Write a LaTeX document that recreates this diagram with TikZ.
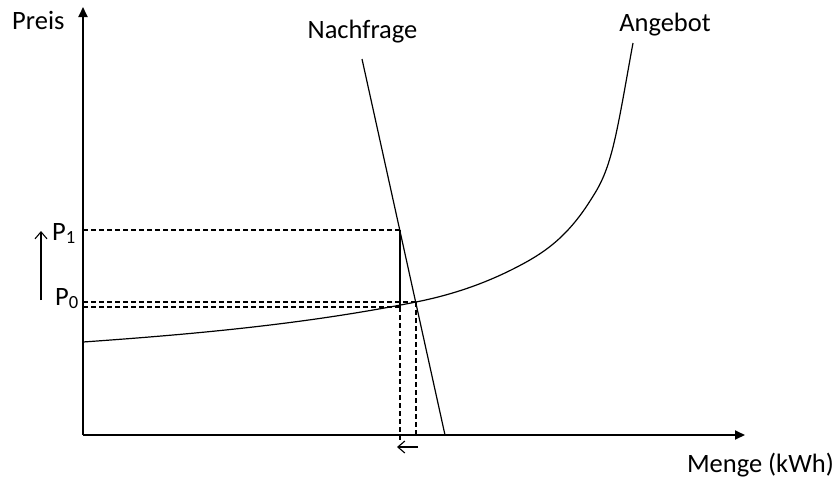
\documentclass[tikz,border=0pt]{standalone}
\usepackage{fontspec}
\setmainfont{Carlito}
\usetikzlibrary{arrows.meta}
\begin{document}
\begin{tikzpicture}[x=1pt,y=-1pt,
  axis/.style={line width=1.8pt,-{Triangle[length=10pt,width=9pt]}},
  curve/.style={line width=1.2pt},
  guide/.style={line width=1.1pt,dash pattern=on 5pt off 3pt},
  shiftarrow/.style={line width=1.1pt,-{Straight Barb[length=7pt,width=12pt]}},
  lbl/.style={font=\fontsize{26.5}{31}\selectfont,inner sep=0pt}]
\useasboundingbox (0,0) rectangle (837,480);
% coordinates
\coordinate (O) at (83,435);
\coordinate (Ytop) at (83,7);
\coordinate (Xend) at (745,435);
\coordinate (Dtop) at (362,59);
\coordinate (Dbot) at (445,435);
\coordinate (E) at (416,302);
\coordinate (A) at (400,230);
\coordinate (B) at (400,307);
\coordinate (P1) at (83,230);
\coordinate (P0a) at (83,302);
\coordinate (P0b) at (83,307);
\coordinate (Qa) at (400,442);
\coordinate (Qb) at (416,435);
\coordinate (S0) at (83,342);
\coordinate (S2) at (517,267);
\coordinate (S3) at (590,201);
\coordinate (S4) at (613,147);
\coordinate (S5) at (633,43);
% axes
\draw[axis] (O) -- (Ytop);
\draw[axis] (O) -- (Xend);
% guides
\draw[guide] (P1) -- (A);
\draw[guide] (P0a) -- (E);
\draw[guide] (P0b) -- (B);
\draw[guide] (B) -- (Qa);
\draw[guide] (E) -- (Qb);
% demand
\draw[curve] (Dtop) -- (Dbot);
% supply
\draw[curve] (S0) .. controls (194,334.2) and (305,324.2) .. (E)
  .. controls (449.7,295.3) and (483.3,284.5) .. (S2)
  .. controls (541.3,254.4) and (565.7,239.4) .. (S3)
  .. controls (597.7,188.9) and (605.3,177.7) .. (S4)
  .. controls (619.7,120.3) and (626.3,79) .. (S5);
% price jump
\draw[line width=1.8pt] (A) -- (B);
% shift arrows
\coordinate (Us) at (41,300);
\coordinate (Ue) at (41,231);
\draw[shiftarrow] (Us) -- (Ue);
\coordinate (Ls) at (418,447);
\coordinate (Le) at (397,447);
\draw[shiftarrow] (Ls) -- (Le);
% labels
\node[lbl,anchor=base west] (preis) at (12,29) {Preis};
\node[lbl,anchor=base] (nach) at (362.5,38) {Nachfrage};
\node[lbl,anchor=base] (ang) at (665,31) {Angebot};
\node[lbl,anchor=base east] (menge) at (834,472) {Menge (kWh)};
\node[lbl,anchor=base west] (p1) at (52,240) {P\textsubscript{1}};
\node[lbl,anchor=base west] (p0) at (55,305) {P\textsubscript{0}};
\end{tikzpicture}
\end{document}
